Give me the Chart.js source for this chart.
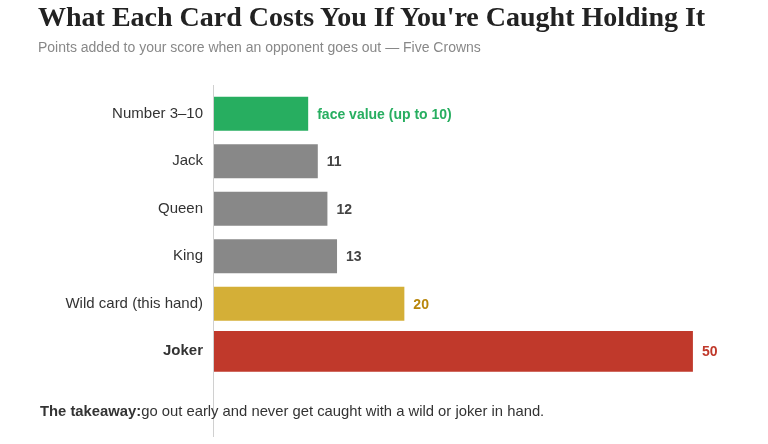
<!DOCTYPE html>
<html>
<head>
<meta charset="utf-8">
<script src="https://cdn.jsdelivr.net/npm/chart.js@4.4.1/dist/chart.umd.min.js"></script>
<style>
  html, body { margin: 0; padding: 0; background: #fff; }
  body { width: 768px; height: 444px; position: relative; overflow: hidden; font-family: "Liberation Sans", Arial, sans-serif; }
  #title { position: absolute; left: 38px; top: 1px; font-family: "Liberation Serif", "Times New Roman", serif; font-weight: bold; font-size: 28px; color: #222; white-space: nowrap; }
  #subtitle { position: absolute; left: 38px; top: 39px; font-size: 14px; color: #888; white-space: nowrap; }
  #takeaway { position: absolute; left: 40px; top: 403px; font-size: 14.8px; color: #333; white-space: nowrap; }
  #wrap { position: absolute; left: 0; top: 0; width: 768px; height: 444px; }
</style>
</head>
<body>
<div id="wrap"><canvas id="c" width="768" height="444"></canvas></div>
<div id="title">What Each Card Costs You If You're Caught Holding It</div>
<div id="subtitle">Points added to your score when an opponent goes out — Five Crowns</div>
<div id="takeaway"><b>The takeaway:</b>go out early and never get caught with a wild or joker in hand.</div>
<script>
const categories = ['Number 3–10', 'Jack', 'Queen', 'King', 'Wild card (this hand)', 'Joker'];
const points = [10, 11, 12, 13, 20, 50];
const valueLabels = ['face value (up to 10)', '11', '12', '13', '20', '50'];
const barColors = ['#27ae60', '#888888', '#888888', '#888888', '#d4af37', '#c0392b'];
const labelColors = ['#27ae60', '#444444', '#444444', '#444444', '#b8860b', '#c0392b'];
const xMax = 55;

const regular = points.map((v, i) => i === 5 ? null : v);
const highlight = points.map((v, i) => i === 5 ? v : null);

const valueLabelPlugin = {
  id: 'valueLabels',
  afterDatasetsDraw(chart) {
    const ctx = chart.ctx;
    ctx.save();
    ctx.font = 'bold 14px "Liberation Sans", Arial, sans-serif';
    ctx.textBaseline = 'middle';
    ctx.textAlign = 'left';
    chart.data.datasets.forEach((ds, di) => {
      const meta = chart.getDatasetMeta(di);
      meta.data.forEach((bar, i) => {
        if (ds.data[i] == null) return;
        ctx.fillStyle = labelColors[i];
        ctx.fillText(valueLabels[i], bar.x + 8, bar.y + 1);
      });
    });
    ctx.restore();
  }
};

const axisLinePlugin = {
  id: 'axisLine',
  afterDraw(chart) {
    const ctx = chart.ctx;
    const x = chart.scales.x.getPixelForValue(0);
    ctx.save();
    ctx.strokeStyle = '#d0d0d0';
    ctx.lineWidth = 1;
    ctx.beginPath();
    ctx.moveTo(Math.round(x) + 0.5, chart.chartArea.top - 5);
    ctx.lineTo(Math.round(x) + 0.5, chart.height - 7);
    ctx.stroke();
    ctx.restore();
  }
};

new Chart(document.getElementById('c'), {
  type: 'bar',
  data: {
    labels: categories,
    datasets: [
      {
        data: regular,
        backgroundColor: barColors,
        borderColor: 'rgba(255,255,255,0.55)',
        borderWidth: 1,
        borderSkipped: false,
        barPercentage: 0.76,
        categoryPercentage: 1,
        grouped: false
      },
      {
        data: highlight,
        backgroundColor: barColors,
        borderColor: 'rgba(255,255,255,0.55)',
        borderWidth: 1,
        borderSkipped: false,
        barPercentage: 0.9,
        categoryPercentage: 1,
        grouped: false
      }
    ]
  },
  options: {
    indexAxis: 'y',
    responsive: false,
    animation: false,
    layout: { padding: { top: 90, bottom: 69, right: 26, left: 0 } },
    plugins: { legend: { display: false }, tooltip: { enabled: false } },
    scales: {
      x: { display: false, min: 0, max: xMax },
      y: {
        border: { display: false },
        grid: { display: false, drawTicks: false, tickLength: 0 },
        afterFit(scale) { scale.width = 213; },
        ticks: {
          padding: 10,
          color: '#333',
          font: (c) => ({ family: '"Liberation Sans", Arial, sans-serif', size: 15, weight: c.index === 5 ? 'bold' : 'normal' })
        }
      }
    }
  },
  plugins: [valueLabelPlugin, axisLinePlugin]
});
</script>
</body>
</html>
